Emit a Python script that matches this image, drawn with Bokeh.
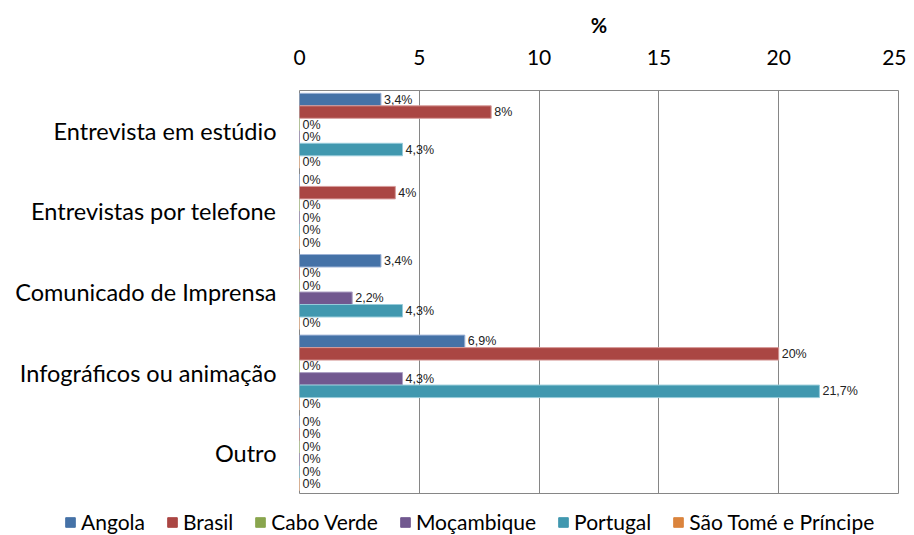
from bokeh.plotting import figure
from bokeh.models import FactorRange, ColumnDataSource, Legend, LegendItem, FixedTicker
from bokeh.layouts import column, row
from bokeh.transform import dodge
from bokeh.core.properties import value
from bokeh.embed import file_html
from bokeh.resources import INLINE

categories = ["Entrevista em estúdio", "Entrevistas por telefone", "Comunicado de Imprensa",
              "Infográficos ou animação", "Outro"]
series = ["Angola", "Brasil", "Cabo Verde", "Moçambique", "Portugal", "São Tomé e Príncipe"]
angola = [3.4, 0, 3.4, 6.9, 0]
brasil = [8, 4, 0, 20, 0]
cabo_verde = [0, 0, 0, 0, 0]
mocambique = [0, 0, 2.2, 4.3, 0]
portugal = [4.3, 0, 4.3, 21.7, 0]
sao_tome = [0, 0, 0, 0, 0]
x_ticks = [0, 5, 10, 15, 20, 25]

values = [angola, brasil, cabo_verde, mocambique, portugal, sao_tome]
colors = ["#4572A7", "#AA4643", "#89A54E", "#71588F", "#4198AF", "#DB843D"]
edge = ["#9DB3D6", "#D79C9A", "#C2D6A0", "#ADA0C4", "#96CBDA", "#F2BE97"]

LABEL_FONT = "Lato"

p = figure(width=906, height=503, output_backend="svg", toolbar_location=None,
           y_range=FactorRange(factors=list(reversed(categories)), range_padding=0),
           x_range=(0, 25), x_axis_location="above",
           min_border_left=299, min_border_right=8, min_border_top=90, min_border_bottom=10)

bar_h = 0.155
offsets = [2.5 * bar_h, 1.5 * bar_h, 0.5 * bar_h, -0.5 * bar_h, -1.5 * bar_h, -2.5 * bar_h]

sources = []
for s, vals, c, ec, off in zip(series, values, colors, edge, offsets):
    labels = [("%g" % v).replace(".", ",") + "%" for v in vals]
    src = ColumnDataSource(dict(cat=categories, val=vals, lab=labels))
    sources.append(src)
    p.hbar(y=dodge("cat", off, range=p.y_range), right="val", left=0, height=bar_h,
           source=src, fill_color=c, line_color=ec, line_width=1)
    p.text(x="val", y=dodge("cat", off, range=p.y_range), text="lab", source=src,
           x_offset=3, text_baseline="middle", text_align="left",
           text_font=value("Liberation Sans"), text_font_size="12.5px", text_color="#222222")

xa = p.xaxis[0]
xa.ticker = FixedTicker(ticks=x_ticks)
xa.axis_label = "%"
xa.axis_label_text_font = LABEL_FONT
xa.axis_label_text_font_style = "bold"
xa.axis_label_text_font_size = "20px"
xa.axis_label_text_color = "#000000"
xa.axis_label_standoff = 10
xa.major_label_text_font = LABEL_FONT
xa.major_label_text_font_size = "21px"
xa.major_label_text_color = "#000000"
xa.major_label_standoff = 20
xa.axis_line_color = None
xa.major_tick_line_color = None
xa.minor_tick_line_color = None

ya = p.yaxis[0]
ya.major_label_text_font = LABEL_FONT
ya.major_label_text_font_size = "23.5px"
ya.major_label_text_color = "#000000"
ya.major_label_standoff = 17
ya.axis_line_color = None
ya.major_tick_line_color = None

p.ygrid.grid_line_color = None
p.xgrid.grid_line_color = "#868686"
p.xgrid.ticker = FixedTicker(ticks=x_ticks)
p.outline_line_color = "#868686"
p.outline_line_width = 1

# legend strip (its bars fall outside its own view; only the legend shows)
lg = figure(width=906, height=32, output_backend="svg", toolbar_location=None,
            x_range=(-2, -1), y_range=FactorRange(factors=categories), min_border=0)
lg.axis.visible = False
lg.grid.grid_line_color = None
lg.outline_line_color = None
items = []
for s, c, src in zip(series, colors, sources):
    r = lg.hbar(y="cat", right="val", left=0, height=0.5, source=src,
                fill_color=c, line_color=c)
    items.append(LegendItem(label=s, renderers=[r]))
legend = Legend(items=items, orientation="horizontal", location=(64, 1),
                label_text_font=LABEL_FONT, label_text_font_size="21px",
                label_text_color="#000000", background_fill_alpha=0,
                glyph_width=12, glyph_height=12, label_standoff=5, spacing=21,
                padding=0, margin=0, border_line_color=None, label_height=22)
lg.add_layout(legend)

layout = column(p, row(lg), spacing=0)
open("out.html", "w").write(file_html(layout, INLINE))
